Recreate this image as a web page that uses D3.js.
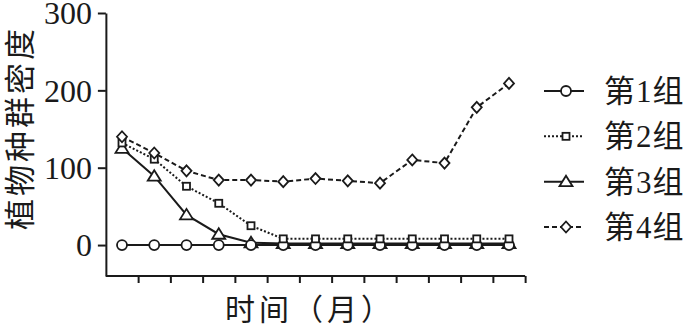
<!DOCTYPE html>
<html><head><meta charset="utf-8">
<script src="https://cdn.jsdelivr.net/npm/d3@7"></script>
<style>body{margin:0;background:#fff}svg{display:block}</style>
</head><body>
<svg id="c" width="688" height="325"></svg>
<script>
const months = d3.range(13);
const group1 = [0,0,0,0,0,0,0,0,0,0,0,0,0];
const group2 = [132,111,76,54,25,8,8,8,8,8,8,8,8];
const group3 = [125,89,39,14,3,2,2,2,2,2,2,2,2];
const group4 = [140,119,96,84,84,82,86,83,80,110,106,178,209];
const seriesNames = ["第1组","第2组","第3组","第4组"];
const yTicks = [0,100,200,300];
const xTickPos = d3.range(13).map(i => i + 0.5);
const yTitle = "植物种群密度";
const xTitle = "时间（月）";

const svg = d3.select("#c");
const ink = "#1a1a1a";
const x = d3.scaleLinear().domain([0,12]).range([122,509]);
const y = d3.scaleLinear().domain([-40,300]).range([276,13]);
const serif = "'Liberation Serif','Noto Sans CJK SC',serif";

// axes
const ya = svg.append("g").attr("transform",`translate(${x(-0.5)},0)`)
  .call(d3.axisLeft(y).tickValues(yTicks).tickSize(8).tickSizeOuter(0).tickPadding(6));
ya.select(".domain").attr("stroke",ink).attr("stroke-width",2);
ya.selectAll(".tick line").attr("stroke",ink).attr("stroke-width",2);
ya.selectAll(".tick text").attr("font-family",serif).attr("font-size",32).attr("fill",ink)
  .attr("dy","0.34em");

const xa = svg.append("g").attr("transform",`translate(0,${y(-40)})`)
  .call(d3.axisBottom(x).tickValues(xTickPos).tickSize(7).tickSizeOuter(0).tickFormat(""));
xa.select(".domain").attr("stroke",ink).attr("stroke-width",2).attr("d",`M${x(-0.5)},0H${x(12.5)}`);
xa.selectAll(".tick line").attr("stroke",ink).attr("stroke-width",2);

// titles
svg.append("text").attr("transform",`translate(31,128) rotate(-90)`)
  .attr("text-anchor","middle").attr("font-family",serif).attr("font-size",31)
  .attr("letter-spacing",3).attr("fill",ink).text(yTitle);
svg.append("text").attr("x",310).attr("y",320).attr("text-anchor","middle")
  .attr("font-family",serif).attr("font-size",30).attr("letter-spacing",4).attr("fill",ink).text(xTitle);

const defs = [
  {data:group3, dash:null, marker:"tri"},
  {data:group1, dash:null, marker:"circle"},
  {data:group2, dash:"2,2", marker:"square"},
  {data:group4, dash:"5,3", marker:"diamond"}
];
const line = d3.line().x((d,i)=>x(months[i])).y(d=>y(d));
function marker(g, type, cx, cy){
  const common = s => s.attr("fill","#fff").attr("stroke",ink).attr("stroke-width",1.8);
  if(type==="circle") common(g.append("circle").attr("cx",cx).attr("cy",cy).attr("r",5));
  if(type==="square") common(g.append("rect").attr("x",cx-3.5).attr("y",cy-3.5).attr("width",7).attr("height",7));
  if(type==="diamond") common(g.append("path").attr("d",`M${cx},${cy-5.5}L${cx+5},${cy}L${cx},${cy+5.5}L${cx-5},${cy}Z`));
  if(type==="tri") common(g.append("path").attr("d",`M${cx},${cy-6}L${cx+6.5},${cy+4.5}L${cx-6.5},${cy+4.5}Z`));
}
defs.forEach(s=>{
  const g = svg.append("g");
  g.append("path").attr("d",line(s.data)).attr("fill","none").attr("stroke",ink)
    .attr("stroke-width",2).attr("stroke-dasharray",s.dash);
  s.data.forEach((v,i)=>marker(g,s.marker,x(months[i]),y(v)));
});

// legend
const legendOrder = [
  {dash:null, marker:"circle"},
  {dash:"2,2", marker:"square"},
  {dash:null, marker:"tri"},
  {dash:"5,3", marker:"diamond"}
];
const legY = d3.scalePoint().domain(seriesNames).range([91,227]);
seriesNames.forEach((n,i)=>{
  const g = svg.append("g");
  const yy = legY(n);
  g.append("line").attr("x1",544).attr("x2",584).attr("y1",yy).attr("y2",yy)
    .attr("stroke",ink).attr("stroke-width",2).attr("stroke-dasharray",legendOrder[i].dash);
  marker(g,legendOrder[i].marker,566,yy);
  g.append("text").attr("x",604).attr("y",yy+11).attr("font-family",serif)
    .attr("font-size",31).attr("letter-spacing",1).attr("fill",ink).text(n);
});
</script>
</body></html>
